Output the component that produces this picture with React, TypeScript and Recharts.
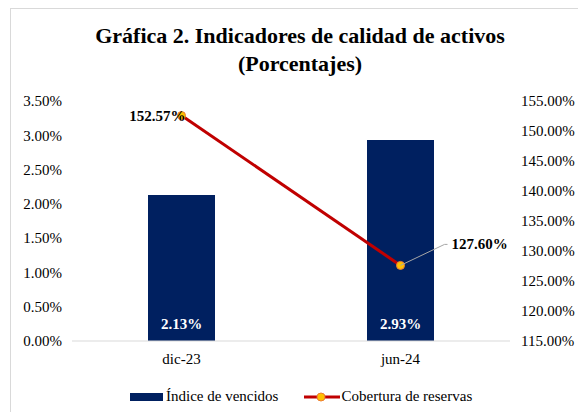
import React from "react";
import { ComposedChart, Bar, Line, XAxis, YAxis, LabelList } from "recharts";

// Datos
const periodos = ["dic-23", "jun-24"];
const indiceVencidos = [2.13, 2.93];
const coberturaReservas = [152.57, 127.6];
const ticksIzq = [0, 0.5, 1, 1.5, 2, 2.5, 3, 3.5];
const ticksDer = [115, 120, 125, 130, 135, 140, 145, 150, 155];

const data = periodos.map((p, i) => ({
  periodo: p,
  indice: indiceVencidos[i],
  cobertura: coberturaReservas[i],
}));

const FUENTE = "'Liberation Serif', 'Times New Roman', serif";

const fmt = (v: number) => `${v.toFixed(2)}%`;

function EtiquetaLinea(props: any) {
  const { x, y, value, index } = props;
  const i = index ?? coberturaReservas.indexOf(value);
  if (i === 0) {
    return (
      <text x={x + 4} y={y + 5} textAnchor="end" fontSize={15} fontWeight="bold" fill="#000" fontFamily={FUENTE}>
        {fmt(value)}
      </text>
    );
  }
  return (
    <g>
      <polyline
        points={`${x},${y} ${x + 44},${y - 21} ${x + 47},${y - 21}`}
        fill="none"
        stroke="#a6a6a6"
        strokeWidth={1}
      />
      <text x={x + 51} y={y - 16} textAnchor="start" fontSize={15} fontWeight="bold" fill="#000" fontFamily={FUENTE}>
        {fmt(value)}
      </text>
    </g>
  );
}

export default function App() {
  return (
    <div
      style={{
        position: "absolute",
        left: 0,
        top: 0,
        width: 578,
        height: 412,
        overflow: "hidden",
        background: "#fff",
        fontFamily: FUENTE,
      }}
    >
      <div
        style={{
          position: "absolute",
          left: 10,
          top: 8,
          width: 620,
          height: 460,
          border: "1px solid #d9d9d9",
        }}
      />
      <div
        style={{
          position: "absolute",
          left: 0,
          top: 22,
          width: 600,
          textAlign: "center",
          fontSize: 22,
          fontWeight: "bold",
          lineHeight: "28px",
          color: "#000",
        }}
      >
        Gráfica 2. Indicadores de calidad de activos
        <br />
        (Porcentajes)
      </div>

      <div style={{ position: "absolute", left: 0, top: 0 }}>
        <ComposedChart
          width={578}
          height={412}
          data={data}
          margin={{ top: 101, right: 0, bottom: 41, left: 0 }}
        >
          <XAxis
            dataKey="periodo"
            height={30}
            tickLine={false}
            axisLine={{ stroke: "#d9d9d9" }}
            tick={{ fontSize: 15, fill: "#000", fontFamily: FUENTE }}
            tickMargin={6}
          />
          <YAxis
            yAxisId="izq"
            width={72}
            domain={[0, 3.5]}
            ticks={ticksIzq}
            tickFormatter={fmt}
            axisLine={false}
            tickLine={false}
            tickMargin={4}
            interval={0}
            tick={{ fontSize: 15, fill: "#000", fontFamily: FUENTE }}
          />
          <YAxis
            yAxisId="der"
            orientation="right"
            width={68}
            domain={[115, 155]}
            ticks={ticksDer}
            tickFormatter={fmt}
            axisLine={false}
            tickLine={false}
            tickMargin={5}
            interval={0}
            tick={{ fontSize: 15, fill: "#000", fontFamily: FUENTE, textAnchor: "start" }}
          />
          <Bar yAxisId="izq" dataKey="indice" fill="#002060" barSize={67} isAnimationActive={false}>
            <LabelList
              dataKey="indice"
              position="insideBottom"
              offset={12}
              formatter={(v: any) => fmt(Number(v))}
              style={{ fontSize: 15, fontWeight: "bold", fill: "#fff", fontFamily: FUENTE }}
            />
          </Bar>
          <Line
            yAxisId="der"
            dataKey="cobertura"
            stroke="#c00000"
            strokeWidth={3}
            dot={{ r: 4, fill: "#ffc000", stroke: "#ed7d31", strokeWidth: 1 }}
            activeDot={false}
            isAnimationActive={false}
          >
            <LabelList dataKey="cobertura" content={<EtiquetaLinea />} />
          </Line>
        </ComposedChart>
      </div>

      <div
        style={{
          position: "absolute",
          left: 130,
          top: 388,
          display: "flex",
          alignItems: "center",
          fontSize: 15,
          color: "#000",
          whiteSpace: "nowrap",
        }}
      >
        <span style={{ display: "inline-block", width: 33, height: 8, background: "#002060", marginRight: 3 }} />
        <span>Índice de vencidos</span>
        <svg width={36} height={12} style={{ marginLeft: 26, marginRight: 1 }}>
          <line x1={0} y1={6} x2={36} y2={6} stroke="#c00000" strokeWidth={3} />
          <circle cx={17} cy={6} r={4} fill="#ffc000" stroke="#ed7d31" strokeWidth={1} />
        </svg>
        <span>Cobertura de reservas</span>
      </div>
    </div>
  );
}
